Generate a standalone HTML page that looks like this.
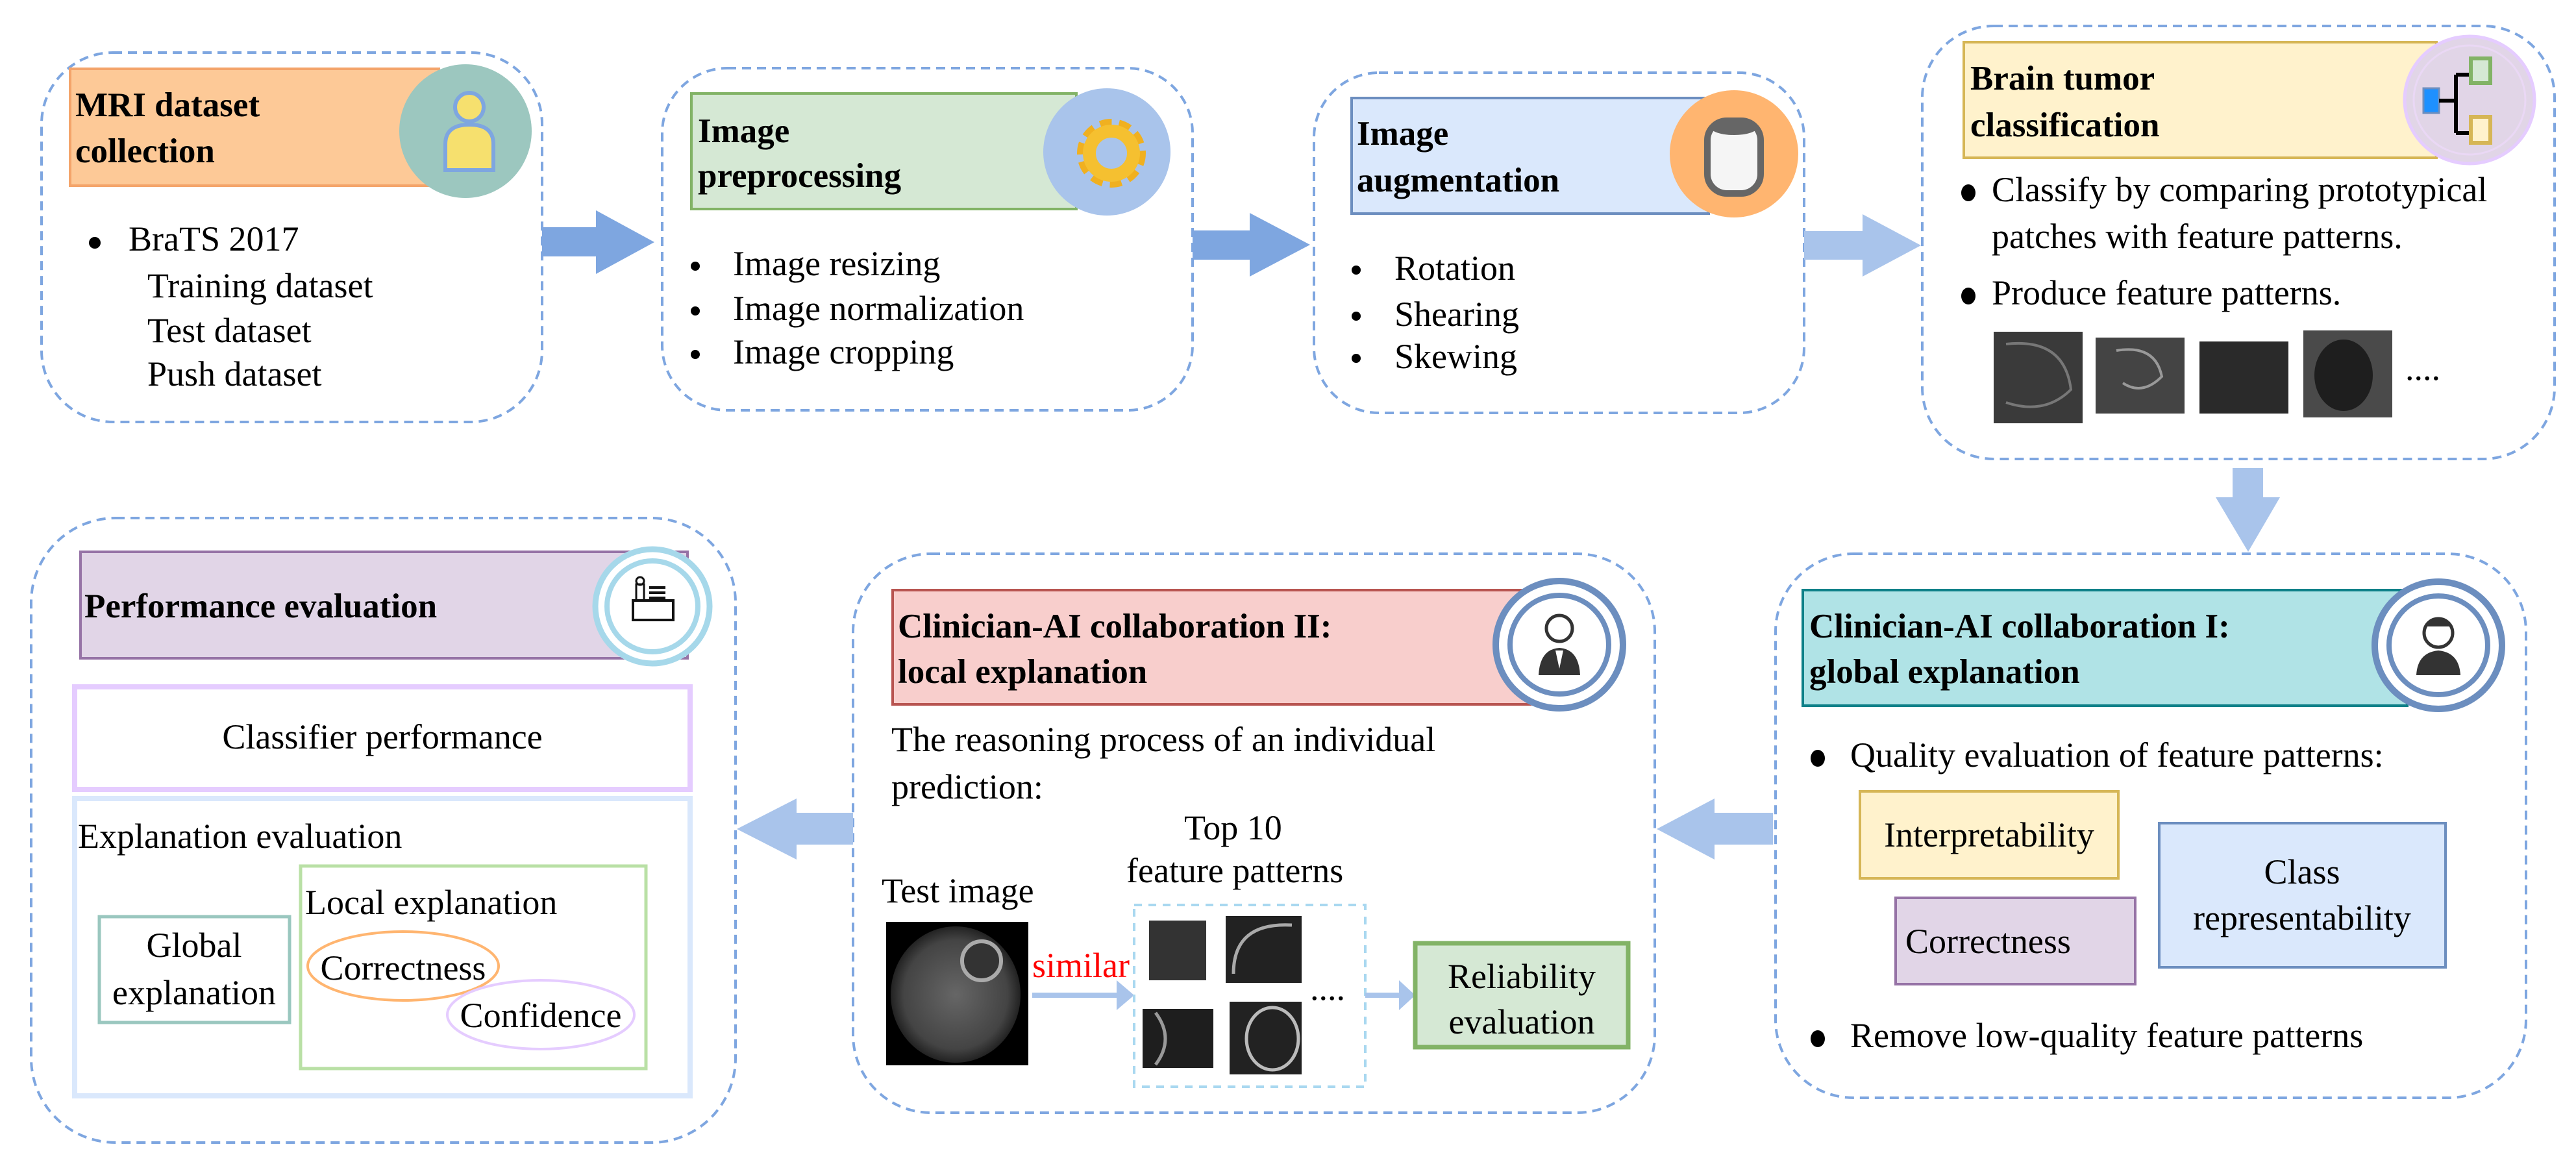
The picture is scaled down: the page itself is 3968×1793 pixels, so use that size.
<!DOCTYPE html>
<html><head><meta charset="utf-8"><style>
html,body{margin:0;padding:0;background:#fff;}
svg{display:block;}
text{font-family:"Liberation Serif",serif;font-size:54px;fill:#000;}
.b{font-weight:bold;font-size:53px;}
</style></head><body>
<svg width="3968" height="1793" viewBox="0 0 3968 1793" xmlns="http://www.w3.org/2000/svg">
<defs>
<radialGradient id="br" cx="50%" cy="50%" r="50%"><stop offset="0" stop-color="#666"/><stop offset="0.8" stop-color="#444"/><stop offset="1" stop-color="#222"/></radialGradient>
</defs>
<g fill="none" stroke="#7ea6e0" stroke-width="4" stroke-dasharray="14 9">
<rect x="64" y="81" width="771" height="569" rx="110"/>
<rect x="1020" y="105" width="817" height="527" rx="100"/>
<rect x="2024" y="112" width="755" height="524" rx="100"/>
<rect x="2961" y="40" width="974" height="667" rx="110"/>
<rect x="2735" y="853" width="1156" height="838" rx="120"/>
<rect x="1314" y="853" width="1235" height="861" rx="120"/>
<rect x="48" y="798" width="1085" height="962" rx="130"/>
</g>
<!-- arrows -->
<polygon points="835,350 918,350 918,324 1008,373 918,422 918,395 835,395" fill="#7ea6e0"/>
<polygon points="1837,355 1925,355 1925,328 2018,377 1925,426 1925,400 1837,400" fill="#7ea6e0"/>
<polygon points="2779,356 2869,356 2869,330 2959,378 2869,426 2869,400 2779,400" fill="#a9c4eb"/>
<polygon points="3439,721 3486,721 3486,766 3512,766 3463,850 3413,766 3439,766" fill="#a9c4eb"/>
<polygon points="2731,1252 2641,1252 2641,1230 2552,1277 2641,1324 2641,1301 2731,1301" fill="#a9c4eb"/>
<polygon points="1314,1252 1227,1252 1227,1230 1135,1277 1227,1324 1227,1301 1314,1301" fill="#a9c4eb"/>

<!-- Box1 -->
<rect x="108" y="106" width="568" height="180" fill="#fdc997" stroke="#f4a46a" stroke-width="4"/>
<ellipse cx="717" cy="202" rx="102" ry="103" fill="#9cc7bf"/>
<ellipse cx="723" cy="165" rx="22" ry="22" fill="#f6e06e" stroke="#7ea6e0" stroke-width="6"/>
<path d="M686,262 L686,222 Q686,192 723,192 Q760,192 760,222 L760,262 Z" fill="#f6e06e" stroke="#7ea6e0" stroke-width="6"/>
<text class="b" x="116" y="179">MRI dataset</text>
<text class="b" x="116" y="250">collection</text>
<circle cx="146" cy="374" r="9"/>
<text x="198" y="386">BraTS 2017</text>
<text x="227" y="458">Training dataset</text>
<text x="227" y="527">Test dataset</text>
<text x="227" y="594">Push dataset</text>

<!-- Box2 -->
<rect x="1065" y="144" width="593" height="178" fill="#d5e8d4" stroke="#82b366" stroke-width="4"/>
<ellipse cx="1705" cy="234" rx="98" ry="98" fill="#a9c4eb"/>
<g transform="translate(1712,236)">
<circle r="42" fill="none" stroke="#f0b020" stroke-width="22" stroke-dasharray="16 10"/>
<circle r="34" fill="none" stroke="#f5c030" stroke-width="20"/>
<circle r="14" fill="#a9c4eb"/>
</g>
<text class="b" x="1075" y="219">Image</text>
<text class="b" x="1075" y="288">preprocessing</text>
<circle cx="1071" cy="410" r="7"/><text x="1129" y="424">Image resizing</text>
<circle cx="1071" cy="479" r="7"/><text x="1129" y="493">Image normalization</text>
<circle cx="1071" cy="546" r="7"/><text x="1129" y="560">Image cropping</text>

<!-- Box3 -->
<rect x="2082" y="151" width="550" height="178" fill="#dae8fc" stroke="#6c8ebf" stroke-width="4"/>
<ellipse cx="2671" cy="237" rx="99" ry="98" fill="#ffb570"/>
<rect x="2630" y="186" width="82" height="112" rx="30" fill="#f5f5f5" stroke="#666" stroke-width="10"/>
<ellipse cx="2671" cy="196" rx="36" ry="12" fill="#666"/>
<text class="b" x="2090" y="223">Image</text>
<text class="b" x="2090" y="295">augmentation</text>
<circle cx="2089" cy="416" r="7"/><text x="2148" y="431">Rotation</text>
<circle cx="2089" cy="487" r="7"/><text x="2148" y="502">Shearing</text>
<circle cx="2089" cy="552" r="7"/><text x="2148" y="567">Skewing</text>

<!-- Box4 -->
<rect x="3025" y="65" width="728" height="178" fill="#fff2cc" stroke="#d6b656" stroke-width="4"/>
<ellipse cx="3804" cy="154" rx="100" ry="98" fill="#e1d5e7" stroke="#e5ccff" stroke-width="5"/>
<ellipse cx="3804" cy="154" rx="86" ry="84" fill="none" stroke="#ead8f5" stroke-width="3"/>
<rect x="3733" y="136" width="24" height="38" fill="#1e90ff" stroke="#6c8ebf" stroke-width="3"/>
<path d="M3757,155 L3783,155 M3783,115 L3783,205 M3783,115 L3808,115 M3783,205 L3808,205" stroke="#000" stroke-width="6" fill="none"/>
<rect x="3806" y="90" width="30" height="38" fill="#d5e8d4" stroke="#82b366" stroke-width="6"/>
<rect x="3806" y="180" width="30" height="40" fill="#fff2cc" stroke="#d6b656" stroke-width="6"/>
<text class="b" x="3035" y="138">Brain tumor</text>
<text class="b" x="3035" y="210">classification</text>
<ellipse cx="3032" cy="297" rx="11" ry="13"/>
<text x="3068" y="310">Classify by comparing prototypical</text>
<text x="3068" y="382">patches with feature patterns.</text>
<ellipse cx="3032" cy="456" rx="11" ry="13"/>
<text x="3068" y="469">Produce feature patterns.</text>
<rect x="3071" y="511" width="137" height="141" fill="#3a3a3a"/>
<path d="M3090,530 Q3180,520 3190,600 Q3150,640 3090,620" fill="none" stroke="#777" stroke-width="4"/>
<rect x="3228" y="520" width="137" height="117" fill="#444"/>
<path d="M3260,540 Q3320,530 3330,580 Q3300,610 3270,590" fill="none" stroke="#999" stroke-width="4"/>
<rect x="3388" y="526" width="137" height="111" fill="#2a2a2a"/>
<rect x="3548" y="509" width="137" height="134" fill="#4a4a4a"/>
<ellipse cx="3610" cy="578" rx="45" ry="55" fill="#1e1e1e"/>
<text x="3705" y="585" font-size="40">....</text>

<!-- Box5 -->
<rect x="2777" y="909" width="931" height="178" fill="#b0e3e6" stroke="#0e8088" stroke-width="4"/>
<circle cx="3756" cy="994" r="98" fill="#fff" stroke="#6c8ebf" stroke-width="10"/>
<circle cx="3756" cy="994" r="76" fill="#fff" stroke="#6c8ebf" stroke-width="8"/>
<circle cx="3756" cy="975" r="22" fill="#fff" stroke="#333" stroke-width="5"/>
<path d="M3734,965 Q3756,940 3778,965" fill="#333"/>
<path d="M3722,1040 Q3724,1005 3756,1002 Q3788,1005 3790,1040 Z" fill="#333"/>
<text class="b" x="2787" y="982">Clinician-AI collaboration I:</text>
<text class="b" x="2787" y="1052">global explanation</text>
<ellipse cx="2800" cy="1168" rx="11" ry="13"/>
<text x="2850" y="1181">Quality evaluation of feature patterns:</text>
<rect x="2865" y="1219" width="398" height="134" fill="#fff2cc" stroke="#d6b656" stroke-width="4"/>
<text x="3064" y="1304" text-anchor="middle">Interpretability</text>
<rect x="2920" y="1383" width="369" height="133" fill="#e1d5e7" stroke="#9673a6" stroke-width="4"/>
<text x="2935" y="1468">Correctness</text>
<rect x="3326" y="1268" width="441" height="222" fill="#dae8fc" stroke="#6c8ebf" stroke-width="4"/>
<text x="3546" y="1361" text-anchor="middle">Class</text>
<text x="3546" y="1432" text-anchor="middle">representability</text>
<ellipse cx="2800" cy="1600" rx="11" ry="13"/>
<text x="2850" y="1613">Remove low-quality feature patterns</text>

<!-- Box6 -->
<rect x="1375" y="909" width="982" height="176" fill="#f8cecc" stroke="#b85450" stroke-width="4"/>
<circle cx="2402" cy="993" r="98" fill="#fff" stroke="#6c8ebf" stroke-width="10"/>
<circle cx="2402" cy="993" r="76" fill="#fff" stroke="#6c8ebf" stroke-width="8"/>
<circle cx="2402" cy="968" r="20" fill="#fff" stroke="#333" stroke-width="5"/>
<path d="M2370,1040 Q2372,1000 2402,998 Q2432,1000 2434,1040 Z" fill="#333"/>
<path d="M2396,1002 L2408,1002 L2402,1030 Z" fill="#fff"/>
<text class="b" x="1383" y="982">Clinician-AI collaboration II:</text>
<text class="b" x="1383" y="1052">local explanation</text>
<text x="1373" y="1157">The reasoning process of an individual</text>
<text x="1373" y="1230">prediction:</text>
<text x="1824" y="1293">Top 10</text>
<text x="1735" y="1359">feature patterns</text>
<text x="1358" y="1390">Test image</text>
<rect x="1365" y="1420" width="219" height="221" fill="#000"/>
<ellipse cx="1472" cy="1532" rx="100" ry="105" fill="url(#br)"/>
<circle cx="1512" cy="1480" r="30" fill="#333" stroke="#aaa" stroke-width="6"/>
<text x="1590" y="1505" style="fill:#ff0000">similar</text>
<line x1="1590" y1="1533" x2="1725" y2="1533" stroke="#a9c4eb" stroke-width="8"/>
<polygon points="1720,1510 1747,1533 1720,1556" fill="#a9c4eb"/>
<rect x="1747" y="1394" width="356" height="280" fill="none" stroke="#a9d8f0" stroke-width="4" stroke-dasharray="12 10"/>
<rect x="1770" y="1418" width="88" height="92" fill="#333"/>
<rect x="1888" y="1411" width="117" height="103" fill="#222"/>
<path d="M1900,1500 Q1900,1420 1990,1425" fill="none" stroke="#aaa" stroke-width="5"/>
<rect x="1760" y="1554" width="109" height="91" fill="#1e1e1e"/>
<path d="M1780,1560 Q1810,1600 1780,1640" fill="none" stroke="#999" stroke-width="5"/>
<rect x="1894" y="1543" width="111" height="112" fill="#222"/>
<ellipse cx="1960" cy="1600" rx="40" ry="48" fill="none" stroke="#bbb" stroke-width="5"/>
<text x="2018" y="1540" font-size="40">....</text>
<line x1="2103" y1="1533" x2="2160" y2="1533" stroke="#a9c4eb" stroke-width="8"/>
<polygon points="2155,1510 2180,1533 2155,1556" fill="#a9c4eb"/>
<rect x="2180" y="1453" width="328" height="160" fill="#d5e8d4" stroke="#82b366" stroke-width="7"/>
<text x="2344" y="1522" text-anchor="middle">Reliability</text>
<text x="2344" y="1592" text-anchor="middle">evaluation</text>

<!-- Box7 -->
<rect x="124" y="850" width="935" height="164" fill="#e1d5e7" stroke="#9673a6" stroke-width="4"/>
<circle cx="1005" cy="934" r="88" fill="#fff" stroke="#a6d8ea" stroke-width="9"/>
<circle cx="1005" cy="934" r="70" fill="#fff" stroke="#a6d8ea" stroke-width="8"/>
<rect x="975" y="925" width="62" height="30" fill="#fff" stroke="#111" stroke-width="4"/>
<rect x="980" y="900" width="12" height="25" fill="none" stroke="#111" stroke-width="3"/>
<circle cx="986" cy="895" r="6" fill="none" stroke="#111" stroke-width="3"/>
<path d="M1000,905 h25 M1000,913 h25 M1000,921 h25" stroke="#111" stroke-width="4"/>
<text class="b" x="130" y="951">Performance evaluation</text>
<rect x="115" y="1058" width="948" height="158" fill="none" stroke="#e5ccff" stroke-width="8"/>
<text x="589" y="1153" text-anchor="middle">Classifier performance</text>
<rect x="115" y="1230" width="948" height="458" fill="none" stroke="#dae8fc" stroke-width="8"/>
<text x="120" y="1306">Explanation evaluation</text>
<rect x="153" y="1412" width="293" height="163" fill="none" stroke="#9ac7bf" stroke-width="5"/>
<text x="299" y="1474" text-anchor="middle">Global</text>
<text x="299" y="1547" text-anchor="middle">explanation</text>
<rect x="463" y="1334" width="532" height="312" fill="none" stroke="#b9e0a5" stroke-width="5"/>
<text x="470" y="1408">Local explanation</text>
<ellipse cx="621" cy="1488" rx="147" ry="53" fill="none" stroke="#ffb570" stroke-width="4"/>
<text x="621" y="1509" text-anchor="middle">Correctness</text>
<ellipse cx="833" cy="1563" rx="144" ry="53" fill="none" stroke="#e5ccff" stroke-width="4"/>
<text x="833" y="1582" text-anchor="middle">Confidence</text>
</svg>
</body></html>
